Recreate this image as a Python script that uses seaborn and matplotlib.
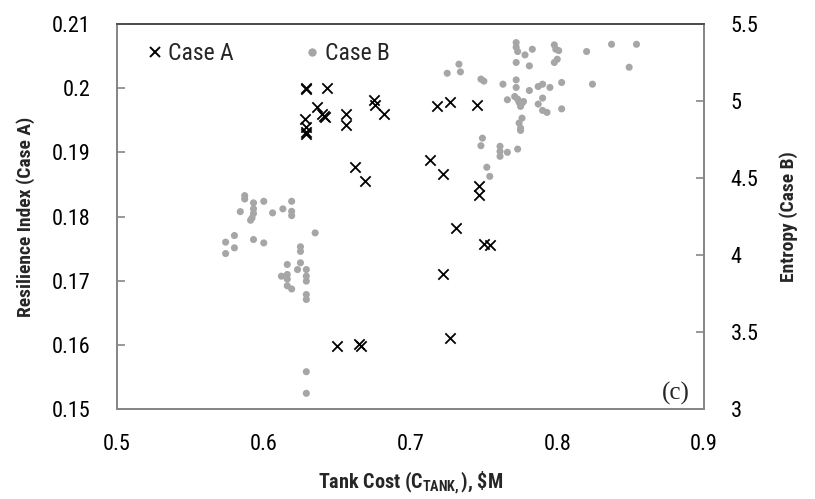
import matplotlib
matplotlib.use("Agg")
import matplotlib.pyplot as plt
import matplotlib.ticker as mticker
from matplotlib.lines import Line2D
import pandas as pd
import seaborn as sns

# Case A: tank cost ($M) vs resilience index
case_a_cost = [0.629, 0.629, 0.643, 0.636, 0.640, 0.642, 0.641, 0.628, 0.629, 0.629,
               0.629, 0.656, 0.656, 0.675, 0.676, 0.682, 0.662, 0.669, 0.718, 0.727,
               0.745, 0.713, 0.722, 0.747, 0.747, 0.731, 0.750, 0.754, 0.722, 0.727,
               0.650, 0.665, 0.666]
case_a_resilience = [0.2000, 0.1998, 0.2000, 0.1970, 0.1960, 0.1955, 0.1957, 0.1952, 0.1940, 0.1932,
                     0.1928, 0.1960, 0.1943, 0.1981, 0.1974, 0.1959, 0.1877, 0.1856, 0.1972, 0.1978,
                     0.1973, 0.1888, 0.1866, 0.1847, 0.1834, 0.1782, 0.1757, 0.1755, 0.1710, 0.1611,
                     0.1598, 0.1601, 0.1598]

# Case B: tank cost ($M) vs entropy
case_b_cost = [0.587, 0.587, 0.593, 0.593, 0.593, 0.592, 0.591, 0.600, 0.584, 0.606,
               0.613, 0.619, 0.619, 0.619, 0.635, 0.580, 0.574, 0.580, 0.593, 0.600,
               0.625, 0.574, 0.625, 0.616, 0.625, 0.612, 0.616, 0.623, 0.629, 0.629,
               0.629, 0.616, 0.616, 0.619, 0.629, 0.629, 0.629, 0.629,
               0.772, 0.772, 0.773, 0.778, 0.783, 0.798, 0.799, 0.801, 0.820, 0.837,
               0.854, 0.849, 0.772, 0.781, 0.798, 0.800, 0.733, 0.734, 0.725, 0.748,
               0.750, 0.763, 0.772, 0.772, 0.781, 0.787, 0.790, 0.795, 0.803, 0.824,
               0.766, 0.771, 0.773, 0.774, 0.775, 0.776, 0.777, 0.787, 0.790, 0.790,
               0.793, 0.803, 0.776, 0.774, 0.775, 0.775, 0.749, 0.748, 0.761, 0.761,
               0.761, 0.766, 0.773, 0.752, 0.754]
case_b_entropy = [4.386, 4.364, 4.339, 4.300, 4.270, 4.241, 4.226, 4.349, 4.282, 4.274,
                  4.300, 4.349, 4.284, 4.256, 4.144, 4.127, 4.084, 4.047, 4.101, 4.079,
                  4.054, 4.010, 4.024, 3.939, 3.950, 3.863, 3.874, 3.906, 3.906, 3.863,
                  3.831, 3.844, 3.801, 3.780, 3.744, 3.712, 3.243, 3.103,
                  5.379, 5.349, 5.321, 5.299, 5.336, 5.364, 5.336, 5.327, 5.321, 5.368,
                  5.368, 5.219, 5.250, 5.228, 5.250, 5.271, 5.239, 5.189, 5.180, 5.142,
                  5.129, 5.109, 5.137, 5.088, 5.068, 5.094, 5.109, 5.088, 5.120, 5.109,
                  5.008, 5.029, 5.012, 4.991, 4.965, 4.986, 4.997, 4.980, 5.019, 4.939,
                  4.926, 4.949, 4.889, 4.857, 4.824, 4.809, 4.759, 4.710, 4.706, 4.673,
                  4.641, 4.667, 4.688, 4.570, 4.511]

x_ticks = [0.5, 0.6, 0.7, 0.8, 0.9]
left_ticks = [0.15, 0.16, 0.17, 0.18, 0.19, 0.2, 0.21]
right_ticks = [3, 3.5, 4, 4.5, 5, 5.5]

df_a = pd.DataFrame({"cost": case_a_cost, "resilience": case_a_resilience})
df_b = pd.DataFrame({"cost": case_b_cost, "entropy": case_b_entropy})

sns.set_style("white")
plt.rcParams["font.family"] = ["Roboto Condensed", "DejaVu Sans"]
plt.rcParams["mathtext.fontset"] = "custom"
plt.rcParams["mathtext.rm"] = "Roboto Condensed:bold"
plt.rcParams["mathtext.it"] = "Roboto Condensed:bold"
plt.rcParams["mathtext.bf"] = "Roboto Condensed:bold"

spine_grey = "#868686"
dot_grey = "#A6A6A6"

fig, ax = plt.subplots(figsize=(8.15, 4.99), dpi=100)
fig.subplots_adjust(left=0.1436, right=0.8638, top=0.952, bottom=0.180)
ax2 = ax.twinx()

# grey dots on the right axis, drawn below the crosses
ax2.set_zorder(1)
ax.set_zorder(2)
ax.patch.set_visible(False)

sns.scatterplot(data=df_b, x="cost", y="entropy", ax=ax2, color=dot_grey,
                s=26, edgecolor="none", marker="o", legend=False)
sns.scatterplot(data=df_a, x="cost", y="resilience", ax=ax, color="black",
                s=55, marker="x", linewidth=1.3, legend=False)

ax.set_xlim(0.5, 0.9)
ax.set_ylim(0.15, 0.21)
ax2.set_ylim(3, 5.5)
ax.set_xticks(x_ticks)
ax.set_yticks(left_ticks)
ax2.set_yticks(right_ticks)
fmt = mticker.FuncFormatter(lambda v, p: f"{v:g}")
ax.xaxis.set_major_formatter(fmt)
ax.yaxis.set_major_formatter(fmt)
ax2.yaxis.set_major_formatter(fmt)

for a in (ax, ax2):
    for sp in a.spines.values():
        sp.set_color(spine_grey)
        sp.set_linewidth(1.3)
    a.spines["top"].set_color("#4d4d4d")
    a.tick_params(direction="in", length=5.5, width=1.2, color=spine_grey,
                  labelsize=16, labelcolor="black", pad=19)
ax.tick_params(axis="x", pad=18)

ax.set_xlabel(r"Tank Cost (C$_{\mathrm{TANK,}}$), \$M", fontsize=14.5, fontweight="bold", labelpad=10)
ax.set_ylabel("Resilience Index (Case A)", fontsize=14, fontweight="bold", labelpad=12)
ax2.set_ylabel("Entropy (Case B)", fontsize=14, fontweight="bold", labelpad=15)

handles = [
    Line2D([], [], marker="x", color="black", linestyle="none", markersize=7, markeredgewidth=1.4, label="Case A"),
    Line2D([], [], marker="o", color=dot_grey, linestyle="none", markersize=5, label="Case B"),
]
ax.legend(handles=handles, loc="upper left", ncol=2, frameon=False, fontsize=17,
          handletextpad=0.1, columnspacing=2.9, handlelength=0.9,
          bbox_to_anchor=(0.022, 0.99), borderaxespad=0.2)

ax.text(0.975, 0.01, "(c)", transform=ax.transAxes, ha="right", va="bottom",
        fontsize=18, family=["Liberation Serif", "DejaVu Serif"])

fig.savefig("out.png", dpi=100)
